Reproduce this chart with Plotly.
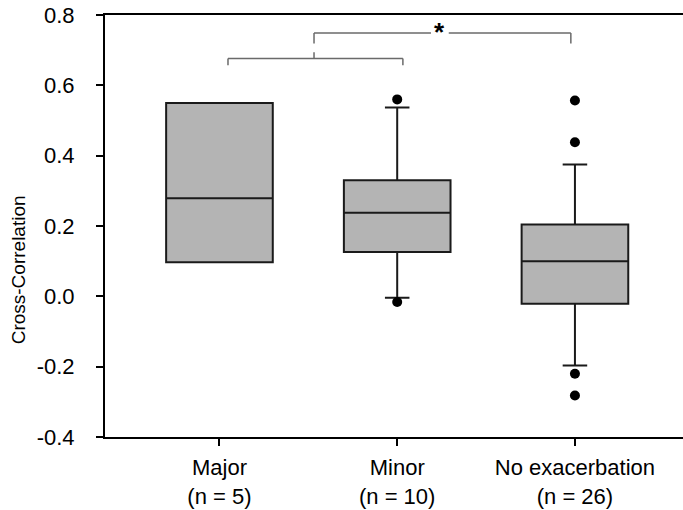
import plotly.graph_objects as go

# Group labels and summary statistics of the cross-correlation per group
groups = ["Major", "Minor", "No exacerbation"]
group_n = [5, 10, 26]
q1 = [0.097, 0.126, -0.021]
median = [0.279, 0.238, 0.100]
q3 = [0.550, 0.330, 0.204]
lower_whisker = [0.097, -0.004, -0.197]
upper_whisker = [0.550, 0.537, 0.375]

# Points beyond the whiskers
outlier_group = ["Minor", "Minor", "No exacerbation", "No exacerbation",
                 "No exacerbation", "No exacerbation"]
outlier_value = [0.560, -0.016, 0.557, 0.438, -0.220, -0.282]

y_ticks = [-0.4, -0.2, 0.0, 0.2, 0.4, 0.6, 0.8]

FONT = "Liberation Sans, Arial, sans-serif"
LINE = "#1a1a1a"
BRACKET = "#6a6a6a"

fig = go.Figure()

fig.add_trace(go.Box(
    x=groups,
    q1=q1,
    median=median,
    q3=q3,
    lowerfence=lower_whisker,
    upperfence=upper_whisker,
    boxpoints=False,
    fillcolor="#b4b4b4",
    line=dict(color=LINE, width=2),
    width=0.6,
    whiskerwidth=0.23,
    showlegend=False,
    hoverinfo="skip",
))

fig.add_trace(go.Scatter(
    x=outlier_group,
    y=outlier_value,
    mode="markers",
    marker=dict(color="black", size=10, line=dict(width=0)),
    showlegend=False,
    hoverinfo="skip",
))

# Significance brackets: Major+Minor vs. No exacerbation
def seg(x0, y0, x1, y1):
    fig.add_shape(type="line", xref="x", yref="y", x0=x0, y0=y0, x1=x1, y1=y1,
                  line=dict(color=BRACKET, width=1.5))

lo_left, lo_right, lo_mid = 0.048, 1.032, 0.532
lo_y, lo_leg, lo_up = 0.676, 0.657, 0.694
seg(lo_left, lo_y, lo_right, lo_y)
seg(lo_left, lo_y, lo_left, lo_leg)
seg(lo_right, lo_y, lo_right, lo_leg)
seg(lo_mid, lo_y, lo_mid, lo_up)

up_left, up_right, star_x = lo_mid, 1.977, 1.24
up_y, up_leg = 0.749, 0.719
seg(up_left, up_y, star_x - 0.05, up_y)
seg(star_x + 0.05, up_y, up_right, up_y)
seg(up_left, up_y, up_left, up_leg)
seg(up_right, up_y, up_right, up_leg)

fig.add_annotation(x=star_x, y=up_y + 0.004, xref="x", yref="y", text="<b>*</b>",
                   showarrow=False, yanchor="middle",
                   font=dict(family=FONT, size=26, color="black"))

fig.add_annotation(x=-0.1505, y=0.074, xref="paper", yref="y",
                   text="Cross-Correlation", textangle=-90, showarrow=False,
                   xanchor="center", yanchor="middle",
                   font=dict(family=FONT, size=19, color="black"))

tick_text = [f"{g}<br>(n = {n})" for g, n in zip(groups, group_n)]

fig.update_xaxes(
    type="category",
    range=[-0.644, 2.608],
    tickvals=groups,
    ticktext=tick_text,
    showline=True, linecolor="black", linewidth=2, mirror=True,
    ticks="outside", ticklen=7, tickwidth=1.5, tickcolor="black",
    ticklabelstandoff=3,
    showgrid=False, zeroline=False,
    tickfont=dict(family=FONT, size=22, color="black"),
)
fig.update_yaxes(
    range=[-0.4, 0.8],
    tickvals=y_ticks,
    ticktext=[f"{v:.1f}" for v in y_ticks],
    showline=True, linecolor="black", linewidth=2,
    ticks="outside", ticklen=7, tickwidth=1.5, tickcolor="black",
    ticklabelstandoff=17,
    showgrid=False, zeroline=False,
    tickfont=dict(family=FONT, size=22, color="black"),
)

fig.update_layout(
    width=683, height=510,
    margin=dict(l=105, r=0, t=15, b=73),
    paper_bgcolor="white", plot_bgcolor="white",
    font=dict(family=FONT, color="black"),
)

fig.write_html("out.html")
